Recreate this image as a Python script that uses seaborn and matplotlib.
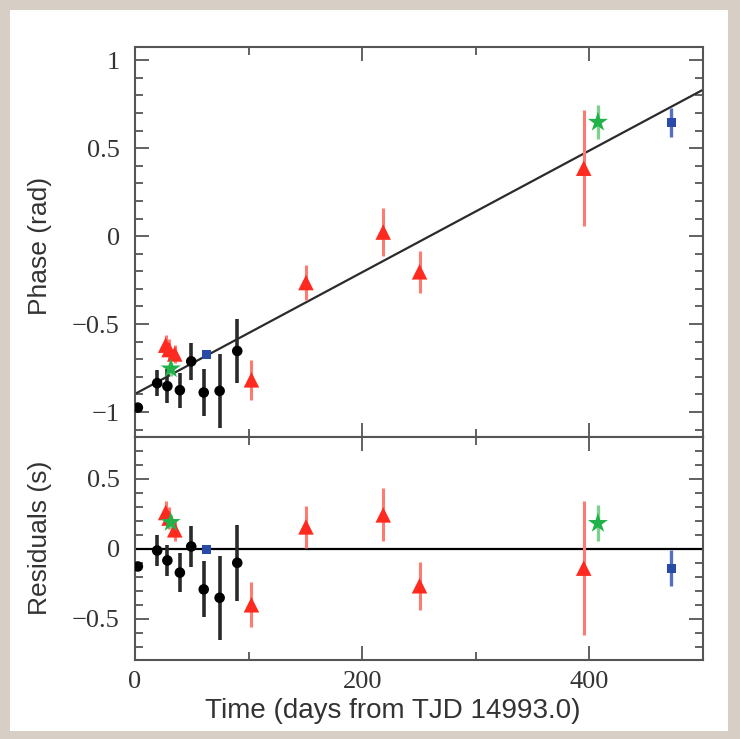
import matplotlib
matplotlib.use("Agg")
import matplotlib.pyplot as plt
import seaborn as sns
import pandas as pd
from matplotlib.patches import Rectangle
from matplotlib.ticker import MultipleLocator

# ---------------- data ----------------
bk_t = [2.5, 19.5, 28.5, 39.5, 49.5, 60.5, 74.5, 90.0]
bk_phase = [-0.975, -0.836, -0.853, -0.876, -0.712, -0.889, -0.880, -0.653]
bk_perr = [0.02, 0.075, 0.095, 0.10, 0.105, 0.135, 0.21, 0.18]
bk_res = [-0.126, -0.012, -0.083, -0.170, 0.017, -0.290, -0.350, -0.100]
bk_rerr = [0.03, 0.11, 0.11, 0.14, 0.15, 0.20, 0.30, 0.27]

rd_t = [27.0, 30.0, 35.0, 102.5, 150.5, 218.5, 250.5, 395.0]
rd_phase = [-0.62, -0.645, -0.67, -0.817, -0.264, 0.023, -0.203, 0.386]
rd_perr = [0.06, 0.06, 0.05, 0.114, 0.10, 0.135, 0.12, 0.33]
rd_res = [0.26, 0.22, 0.136, -0.40, 0.157, 0.243, -0.264, -0.138]
rd_rerr = [0.08, 0.08, 0.08, 0.16, 0.15, 0.19, 0.17, 0.48]

gr_t = [31.5, 407.5]
gr_phase = [-0.754, 0.648]
gr_perr = [0.04, 0.095]
gr_res = [0.19, 0.183]
gr_rerr = [0.05, 0.13]

bl_t = [63.0, 472.0]
bl_phase = [-0.674, 0.646]
bl_perr = [0.01, 0.085]
bl_res = [-0.003, -0.138]
bl_rerr = [0.015, 0.13]

fit_t = [0.0, 500.0]
fit_phase = [-0.897, 0.832]

x_ticks = [0, 200, 400]
phase_ticks = [-1, -0.5, 0, 0.5, 1]
phase_labels = ["\u22121", "\u22120.5", "0", "0.5", "1"]
res_ticks = [-0.5, 0, 0.5]
res_labels = ["\u22120.5", "0", "0.5"]

# ---------------- style ----------------
sns.set_style("ticks")
plt.rcParams['font.family'] = ['Liberation Sans', 'DejaVu Sans']

W, H = 740, 739
fig = plt.figure(figsize=(W / 100, H / 100), dpi=100)
fig.patch.set_facecolor('#d7cfc5')
card = Rectangle((10 / W, 1 - 731 / H), 718 / W, 721 / H,
                 transform=fig.transFigure, facecolor='white',
                 edgecolor='none', zorder=-10)
fig.patches.append(card)

L, R = 135, 703
ax1 = fig.add_axes([L / W, 1 - 437 / H, (R - L) / W, (437 - 47) / H])
ax2 = fig.add_axes([L / W, 1 - 660 / H, (R - L) / W, (660 - 437) / H], sharex=ax1)
ax1.set_zorder(1)
ax2.set_zorder(1)

series = [
    (bk_t, bk_phase, bk_perr, bk_res, bk_rerr, 'black', '#2a2a2a', 'o', 58, 2.6),
    (rd_t, rd_phase, rd_perr, rd_res, rd_rerr, '#ff2a1f', '#ff7a70', '^', 125, 2.2),
    (gr_t, gr_phase, gr_perr, gr_res, gr_rerr, '#22b24a', '#7fd08f', '*', 230, 2.4),
    (bl_t, bl_phase, bl_perr, bl_res, bl_rerr, '#2a4aa8', '#5570c0', 's', 42, 2.4),
]

sns.lineplot(x=fit_t, y=fit_phase, ax=ax1, color='#2b2b2b', lw=1.6, zorder=2)
ax2.axhline(0, color='black', lw=1.6, zorder=2)

for t, ph, pe, rs, re, mc, ec, mk, sz, ew in series:
    df = pd.DataFrame({'t': t, 'phase': ph, 'perr': pe, 'res': rs, 'rerr': re})
    ax1.errorbar(df['t'], df['phase'], yerr=df['perr'], fmt='none',
                 ecolor=ec, elinewidth=ew, capsize=0, zorder=3)
    ax2.errorbar(df['t'], df['res'], yerr=df['rerr'], fmt='none',
                 ecolor=ec, elinewidth=ew, capsize=0, zorder=3)
    sns.scatterplot(data=df, x='t', y='phase', ax=ax1, color=mc, marker=mk,
                    s=sz, edgecolor='none', linewidth=0, zorder=4, legend=False)
    sns.scatterplot(data=df, x='t', y='res', ax=ax2, color=mc, marker=mk,
                    s=sz, edgecolor='none', linewidth=0, zorder=4, legend=False)

ax1.set_xlim(0, 500)
ax1.set_ylim(-1.142, 1.075)
ax2.set_ylim(-0.795, 0.8)

serif = ['Liberation Serif', 'DejaVu Serif']
for ax in (ax1, ax2):
    for sp in ax.spines.values():
        sp.set_color('#555555')
        sp.set_linewidth(1.5)
        sp.set_visible(True)
    ax.xaxis.set_major_locator(MultipleLocator(200))
    ax.xaxis.set_minor_locator(MultipleLocator(100))
    ax.yaxis.set_minor_locator(MultipleLocator(0.1))
    ax.tick_params(which='both', direction='in', top=True, right=True,
                   color='#555555', width=1.3)
    ax.tick_params(which='major', length=10)
    ax.tick_params(which='minor', length=6)
    ax.set_facecolor('white')

ax1.set_yticks(phase_ticks)
ax1.set_yticklabels(phase_labels, fontfamily=serif, fontsize=19, color='#333333')
ax2.set_yticks(res_ticks)
ax2.set_yticklabels(res_labels, fontfamily=serif, fontsize=19, color='#333333')
ax1.tick_params(axis='y', pad=11)
ax2.tick_params(axis='y', pad=11)
ax1.tick_params(axis='x', labelbottom=False)
ax2.set_xticks(x_ticks)
ax2.set_xticklabels([str(v) for v in x_ticks], fontfamily=serif, fontsize=19,
                    color='#333333')
ax2.tick_params(axis='x', pad=8)

ax1.set_xlabel('')
ax1.set_ylabel('Phase (rad)', fontsize=19, color='#333333')
ax2.set_ylabel('Residuals (s)', fontsize=19, color='#333333')
ax2.set_xlabel('Time (days from TJD 14993.0)', fontsize=20, color='#333333')
ax1.yaxis.set_label_coords(-0.146, 0.49)
ax2.yaxis.set_label_coords(-0.146, 0.55)
ax2.xaxis.set_label_coords(0.454, -0.17)

fig.savefig('out.png', dpi=100, facecolor=fig.get_facecolor())
